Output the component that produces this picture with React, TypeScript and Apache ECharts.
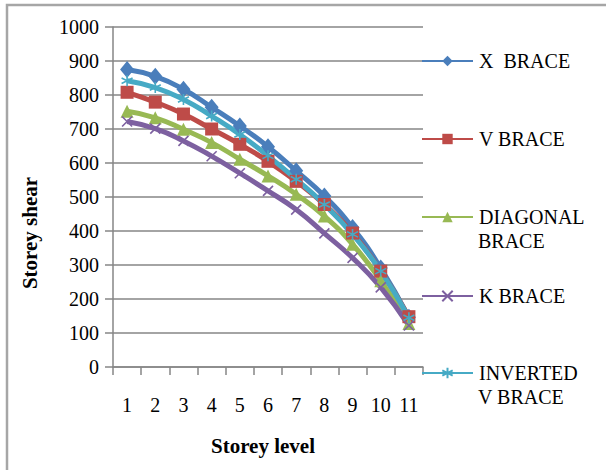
import React, { useEffect, useRef } from "react";
import * as echarts from "echarts";

const categories = ["1", "2", "3", "4", "5", "6", "7", "8", "9", "10", "11"];
const xBrace = [875, 855, 817, 764, 709, 648, 577, 503, 410, 291, 146];
const vBrace = [808, 779, 744, 700, 655, 605, 546, 478, 394, 282, 148];
const diagonalBrace = [752, 733, 699, 660, 611, 562, 508, 444, 361, 254, 128];
const kBrace = [722, 701, 665, 620, 570, 518, 463, 393, 321, 234, 122];
const invertedVBrace = [842, 822, 787, 738, 684, 621, 552, 478, 390, 282, 145];
const yTicks = [0, 1000, 100];

const FONT = "'Liberation Serif', 'Times New Roman', serif";

export default function App() {
  const ref = useRef<HTMLDivElement>(null);
  useEffect(() => {
    if (!ref.current) return;
    const chart = echarts.init(ref.current, null, { renderer: "svg" });
    const mk = (
      name: string,
      data: number[],
      color: string,
      symbol: string,
      symbolSize: any,
      stroke: boolean
    ) => ({
      name,
      type: "line",
      data,
      smooth: true,
      symbol,
      symbolSize,
      showSymbol: true,
      lineStyle: { color, width: 5 },
      itemStyle: stroke
        ? { color, borderColor: color, borderWidth: 1.6 }
        : { color, borderWidth: 0 },
      z: 2,
    });
    const legendBase = (name: string, top: number, label: string) => ({
      orient: "vertical",
      left: 421,
      top,
      padding: 0,
      itemWidth: 51,
      itemHeight: 13,
      itemGap: 0,
      data: [name],
      formatter: () => label,
      lineStyle: { width: 2 },
      textStyle: {
        fontFamily: FONT,
        fontSize: 20,
        color: "#000",
        lineHeight: 20,
        padding: [0, 0, 0, 1],
      },
    });
    const option = {
      animation: false,
      backgroundColor: "#fff",
      grid: { left: 113, top: 27, right: 183, bottom: 103, containLabel: false },
      xAxis: {
        type: "category",
        data: categories,
        boundaryGap: true,
        axisLine: { show: true, lineStyle: { color: "#868686", width: 1.5 } },
        axisTick: { show: true, length: 8, lineStyle: { color: "#868686", width: 1.5 } },
        axisLabel: {
          fontFamily: FONT,
          fontSize: 20,
          color: "#000",
          margin: 28,
          interval: 0,
        },
        splitLine: { show: false },
      },
      yAxis: {
        type: "value",
        min: yTicks[0],
        max: yTicks[1],
        interval: yTicks[2],
        axisLine: { show: true, lineStyle: { color: "#868686", width: 1.5 } },
        axisTick: { show: true, length: 8, lineStyle: { color: "#868686", width: 1.5 } },
        axisLabel: {
          fontFamily: FONT,
          fontSize: 20,
          color: "#000",
          margin: 14,
          formatter: (v: number) => String(v),
        },
        splitLine: { show: true, lineStyle: { color: "#868686", width: 1.5 } },
      },
      legend: [
        legendBase("X BRACE", 51, "X  BRACE"),
        legendBase("V BRACE", 129, "V BRACE"),
        legendBase("DIAGONAL BRACE", 207, "DIAGONAL"),
        legendBase("K BRACE", 286, "K BRACE"),
        legendBase("INVERTED V BRACE", 363, "INVERTED"),
      ],
      graphic: [
        {
          type: "rect",
          shape: { x: 7, y: 5, width: 640, height: 500 },
          style: { fill: "none", stroke: "#a6a6a6", lineWidth: 2.5 },
          silent: true,
          z: -10,
        },
        {
          type: "text",
          left: 478,
          top: 231,
          style: { text: "BRACE", font: `20px ${FONT}`, fill: "#000" },
        },
        {
          type: "text",
          left: 478,
          top: 387,
          style: { text: "V BRACE", font: `20px ${FONT}`, fill: "#000" },
        },
        {
          type: "text",
          x: 30,
          y: 233,
          rotation: Math.PI / 2,
          style: {
            text: "Storey shear",
            font: `bold 21px ${FONT}`,
            fill: "#000",
            align: "center",
            verticalAlign: "middle",
          },
        },
        {
          type: "text",
          x: 263,
          y: 446,
          style: {
            text: "Storey level",
            font: `bold 21px ${FONT}`,
            fill: "#000",
            align: "center",
            verticalAlign: "middle",
          },
        },
      ],
      series: [
        mk("X BRACE", xBrace, "#4a7ebb", "diamond", [14, 17], false),
        mk("V BRACE", vBrace, "#be4b48", "rect", 13, false),
        mk("DIAGONAL BRACE", diagonalBrace, "#98b954", "triangle", 13, false),
        mk("K BRACE", kBrace, "#7d60a0", "path://M0 0L10 10M10 0L0 10", 10, true),
        mk(
          "INVERTED V BRACE",
          invertedVBrace,
          "#46aac5",
          "path://M5 0L5 10M0 2.5L10 7.5M0 7.5L10 2.5",
          11,
          true
        ),
      ],
    };
    chart.setOption(option as any);
    return () => chart.dispose();
  }, []);
  return (
    <div
      ref={ref}
      style={{ position: "fixed", left: 0, top: 0, width: 606, height: 470, background: "#fff" }}
    />
  );
}
